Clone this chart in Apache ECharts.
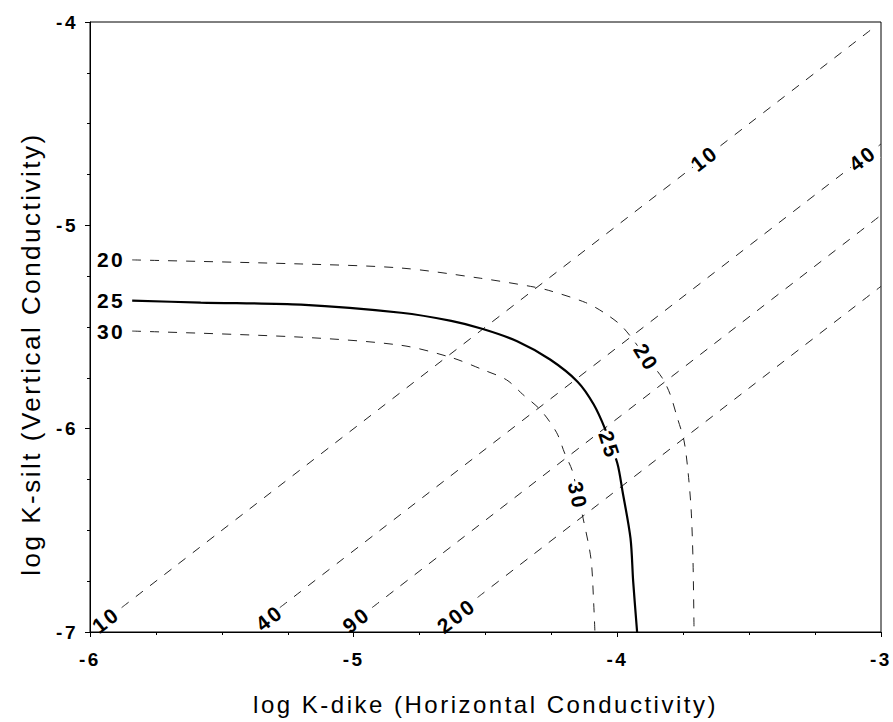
<!DOCTYPE html>
<html>
<head>
<meta charset="utf-8">
<script src="https://cdn.jsdelivr.net/npm/echarts@6/dist/echarts.min.js"></script>
<style>
html,body{margin:0;padding:0;background:#fff}
#chart{width:893px;height:722px}
#chart svg text{letter-spacing:2.5px}
</style>
</head>
<body>
<div id="chart"></div>
<script>
// ratio lines (dashed diagonals)
var ratio10 = [[-5.88, -6.88], [-3.03, -4.03]];
var ratio40 = [[-5.28, -6.88], [-3.00, -4.60]];
var ratio90 = [[-4.93, -6.88], [-3.00, -4.95]];
var ratio200 = [[-4.53, -6.83], [-3.00, -5.30]];

// contours 20 / 25 / 30
var contour20 = [[-5.84,-5.17],[-5.20,-5.19],[-4.82,-5.21],[-4.52,-5.26],[-4.33,-5.30],[-4.26,-5.32],
  [-4.12,-5.38],[-4.05,-5.43],[-3.98,-5.50],[-3.89,-5.65],[-3.83,-5.75],[-3.80,-5.83],[-3.774,-5.94],
  [-3.747,-6.06],[-3.732,-6.21],[-3.72,-6.40],[-3.713,-6.65],[-3.709,-7.00]];
var contour25 = [[-5.84,-5.37],[-5.58,-5.38],[-5.20,-5.39],[-4.82,-5.43],[-4.63,-5.47],[-4.51,-5.51],
  [-4.38,-5.57],[-4.255,-5.66],[-4.15,-5.77],[-4.09,-5.88],[-4.047,-6.00],[-4.00,-6.17],[-3.98,-6.31],
  [-3.95,-6.54],[-3.94,-6.75],[-3.925,-7.00]];
var contour30 = [[-5.84,-5.52],[-5.20,-5.55],[-4.82,-5.59],[-4.63,-5.65],[-4.51,-5.71],[-4.42,-5.76],
  [-4.36,-5.83],[-4.29,-5.91],[-4.23,-6.02],[-4.20,-6.12],[-4.17,-6.21],[-4.15,-6.33],[-4.13,-6.44],
  [-4.10,-6.64],[-4.09,-6.85],[-4.085,-7.00]];

// labels: [text, x, y]
var bottomLabels = [['10', -5.94, -6.94], ['40', -5.32, -6.93], ['90', -4.99, -6.94], ['200', -4.61, -6.92]];
var diagLabels = [['10', -3.67, -4.67], ['40', -3.07, -4.67]];
var leftLabels = [['20', -5.92, -5.17], ['25', -5.92, -5.37], ['30', -5.92, -5.52]];
var curveLabels = [['20', -3.89, -5.65], ['25', -4.03, -6.08], ['30', -4.15, -6.33]];
var curveLabelRotate = [-58, -72, -78];

var xTicks = [-6, -3];
var yTicks = [-7, -4];

var font = 'Liberation Sans, Arial, sans-serif';

function dashed(data) {
  return {
    type: 'line', data: data, showSymbol: false, silent: true, smooth: 0.3,
    lineStyle: {color: '#222', width: 1, type: [9, 9]}
  };
}

function labelSeries(list, rot, bg) {
  return {
    type: 'scatter', symbolSize: 0, z: 5, silent: true,
    itemStyle: {opacity: 1},
    data: list.map(function (l, i) {
      return {
        name: l[0], value: [l[1], l[2]],
        label: {rotate: Array.isArray(rot) ? rot[i] : rot}
      };
    }),
    label: {
      show: true, position: 'inside', formatter: '{b}', color: '#000', opacity: 1,
      textBorderWidth: 0, fontFamily: font, fontSize: 21, fontWeight: 'bold',
      backgroundColor: bg ? '#fff' : 'transparent', padding: [0, 3]
    }
  };
}

var axisCommon = {
  type: 'value', nameLocation: 'middle',
  axisLine: {show: true, onZero: false, lineStyle: {color: '#000', width: 1}},
  axisTick: {show: true, length: 5, lineStyle: {color: '#000'}},
  minorTick: {show: true, splitNumber: 4, length: 3, lineStyle: {color: '#000'}},
  splitLine: {show: false}
};

var myChart = echarts.init(document.getElementById('chart'), null, {renderer: 'svg'});
myChart.setOption({
  animation: false,
  backgroundColor: '#fff',
  grid: {left: 90, right: 12, top: 22, bottom: 90, show: true, borderColor: '#000', borderWidth: 1},
  xAxis: Object.assign({}, axisCommon, {
    min: xTicks[0], max: xTicks[1], interval: 1,
    name: 'log K-dike (Horizontal Conductivity)', nameGap: 60,
    nameTextStyle: {fontFamily: font, fontSize: 24, color: '#000'},
    axisLabel: {fontFamily: font, fontSize: 19, fontWeight: 'bold', color: '#000', margin: 18}
  }),
  yAxis: Object.assign({}, axisCommon, {
    min: yTicks[0], max: yTicks[1], interval: 1,
    name: 'log K-silt (Vertical Conductivity)', nameGap: 46,
    nameTextStyle: {fontFamily: font, fontSize: 26, color: '#000', padding: [0, 54, 0, 0]},
    axisLabel: {fontFamily: font, fontSize: 19, fontWeight: 'bold', color: '#000', margin: 12}
  }),
  series: [
    dashed(ratio10), dashed(ratio40), dashed(ratio90), dashed(ratio200),
    dashed(contour20), dashed(contour30),
    {type: 'line', data: contour25, showSymbol: false, silent: true, smooth: 0.3,
      lineStyle: {color: '#000', width: 2.2}},
    labelSeries(bottomLabels, 38, false),
    labelSeries(diagLabels, 38, true),
    labelSeries(leftLabels, 0, false),
    labelSeries(curveLabels, curveLabelRotate, true)
  ]
});
window.addEventListener('resize', function () { myChart.resize(); });
</script>
</body>
</html>
